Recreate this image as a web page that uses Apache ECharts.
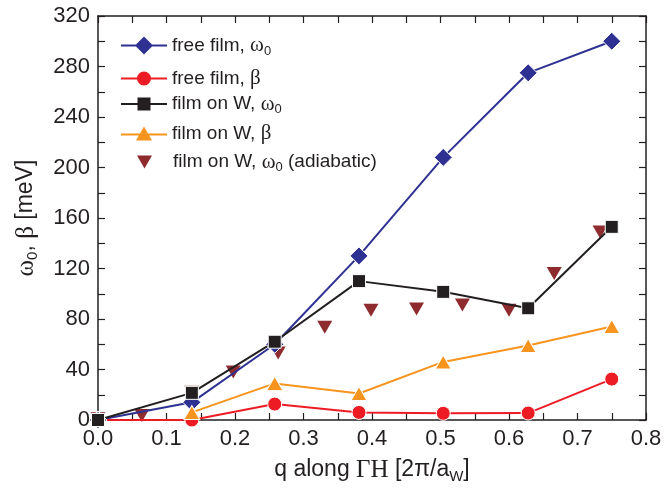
<!DOCTYPE html>
<html>
<head>
<meta charset="utf-8">
<script src="https://cdn.jsdelivr.net/npm/echarts@6/dist/echarts.min.js"></script>
<style>
  html, body { margin: 0; padding: 0; background: #fff; }
  #chart { width: 665px; height: 489px; }
</style>
</head>
<body>
<div id="chart"></div>
<script>
// q values (2pi/aW)
var qMain = [0, 0.137, 0.258, 0.381, 0.504, 0.628, 0.75];
var qOrange = [0.137, 0.258, 0.381, 0.504, 0.628, 0.75];
var qAdiab = [0, 0.064, 0.137, 0.1975, 0.263, 0.331, 0.3985, 0.465, 0.532, 0.6, 0.666, 0.733];

// meV
var freeOmega = [0, 14, 60, 130, 208, 275, 300];
var freeBeta = [0, 0, 12.6, 6, 5.3, 5.5, 32.4];
var wOmega = [0, 21.5, 62, 110, 101.5, 88.5, 153];
var wBeta = [6, 29, 21, 46, 59, 74];
var wAdiab = [1, 3.5, 22, 38, 53, 73.5, 87, 88, 91, 87, 116, 149];

var names = ['free film, ω0', 'free film, β', 'film on W, ω0', 'film on W, β', 'film on W, ω0 (adiabatic)'];
var legendText = {
  'free film, ω0': '{t|free film, }{g|ω}{s|0}',
  'free film, β': '{t|free film, }{g|β}',
  'film on W, ω0': '{t|film on W, }{g|ω}{s|0}',
  'film on W, β': '{t|film on W, }{g|β}',
  'film on W, ω0 (adiabatic)': '{p| }{t|film on W, }{g|ω}{s|0}{t| (adiabatic)}'
};
var legendRow = [44, 75, 100, 130, 158];

// legend icons: line with marker drawn as one path
var legendIcons = [
  { icon: 'path://M0,8 L15,8 L23,0 L31,8 L46,8 L46,10 L31,10 L23,18 L15,10 L0,10 Z', w: 46, h: 18 },
  { icon: 'path://M0,6 L46,6 L46,8 L0,8 Z M16,7 A7,7 0 1,1 30,7 A7,7 0 1,1 16,7 Z', w: 46, h: 14 },
  { icon: 'path://M0,5.5 L46,5.5 L46,7.5 L0,7.5 Z M16.5,0 L29.5,0 L29.5,13 L16.5,13 Z', w: 46, h: 13 },
  { icon: 'path://M0,7 L46,7 L46,9 L0,9 Z M23,0 L31,14 L15,14 Z', w: 46, h: 14 },
  { icon: 'path://M0,0 L15,0 L7.5,13 Z', w: 15, h: 13 }
];

function pairs(xs, ys) {
  return xs.map(function (x, i) { return [x, ys[i]]; });
}

var rich = {
  t: { fontFamily: 'Liberation Sans', fontSize: 19, color: '#231f20', lineHeight: 24, verticalAlign: 'middle' },
  g: { fontFamily: 'Liberation Serif', fontSize: 21, color: '#231f20', lineHeight: 24, verticalAlign: 'middle' },
  s: { fontFamily: 'Liberation Sans', fontSize: 13, color: '#231f20', lineHeight: 12, verticalAlign: 'bottom' },
  p: { width: 16, lineHeight: 24 }
};
var richTitle = {
  t: { fontFamily: 'Liberation Sans', fontSize: 23, color: '#231f20', lineHeight: 28, verticalAlign: 'middle' },
  g: { fontFamily: 'Liberation Serif', fontSize: 25, color: '#231f20', lineHeight: 28, verticalAlign: 'middle' },
  s: { fontFamily: 'Liberation Sans', fontSize: 15, color: '#231f20', lineHeight: 14, verticalAlign: 'bottom' }
};

var chart = echarts.init(document.getElementById('chart'));

var legends = names.map(function (n, i) {
  var ic = legendIcons[i];
  return {
    data: [n],
    icon: ic.icon,
    left: i === 4 ? 137 : 121,
    top: legendRow[i] - ic.h / 2,
    orient: 'vertical',
    itemWidth: ic.w,
    itemHeight: ic.h,
    itemGap: 0,
    padding: 0,
    selectedMode: false,
    itemStyle: { borderWidth: 0 },
    formatter: function (name) { return legendText[name]; },
    textStyle: { rich: rich }
  };
});

var lineSeries = function (name, data, color, symbol, size) {
  return {
    name: name,
    type: 'line',
    data: data,
    symbol: symbol,
    symbolSize: size,
    lineStyle: { color: color, width: 2 },
    itemStyle: { color: color, borderColor: '#fff', borderWidth: 1 },
    animation: false
  };
};

var tickStyle = { color: '#231f20', width: 1.2 };
var lineStyleAxis = { color: '#231f20', width: 1.5 };

chart.setOption({
  animation: false,
  backgroundColor: '#fff',
  legend: legends,
  grid: { left: 98, right: 19, top: 16, bottom: 68 },
  xAxis: [{
    type: 'value', min: 0, max: 0.8, interval: 0.1,
    name: '{t|q along }{g|ΓH}{t| [2π/a}{s|W}{t|]}',
    nameLocation: 'middle', nameGap: 36,
    nameTextStyle: { rich: richTitle },
    axisLine: { show: true, lineStyle: lineStyleAxis },
    axisTick: { show: true, inside: true, length: 7, lineStyle: tickStyle },
    minorTick: { show: true, splitNumber: 2, length: 7, lineStyle: tickStyle },
    axisLabel: {
      fontFamily: 'Liberation Sans', fontSize: 22, color: '#231f20', margin: 8,
      formatter: function (v) { return v.toFixed(1); }
    },
    splitLine: { show: false }
  }, {
    type: 'value', min: 0, max: 0.8, interval: 0.1, position: 'top',
    axisLine: { show: true, onZero: false, lineStyle: lineStyleAxis },
    axisTick: { show: true, inside: true, length: 7, lineStyle: tickStyle },
    minorTick: { show: true, splitNumber: 2, length: 7, lineStyle: tickStyle },
    axisLabel: { show: false },
    splitLine: { show: false }
  }],
  yAxis: [{
    type: 'value', min: 0, max: 320, interval: 40,
    name: '{g|ω}{s|0}{t|, }{g|β}{t| [meV]}',
    nameLocation: 'middle', nameGap: 58, nameRotate: 90,
    nameTextStyle: { rich: richTitle },
    axisLine: { show: true, lineStyle: lineStyleAxis },
    axisTick: { show: true, inside: true, length: 7, lineStyle: tickStyle },
    minorTick: { show: true, splitNumber: 2, length: 7, lineStyle: tickStyle },
    axisLabel: { fontFamily: 'Liberation Sans', fontSize: 22, color: '#231f20', margin: 8 },
    splitLine: { show: false }
  }, {
    type: 'value', min: 0, max: 320, interval: 40, position: 'right',
    axisLine: { show: true, onZero: false, lineStyle: lineStyleAxis },
    axisTick: { show: true, inside: true, length: 7, lineStyle: tickStyle },
    minorTick: { show: true, splitNumber: 2, length: 7, lineStyle: tickStyle },
    axisLabel: { show: false },
    splitLine: { show: false }
  }],
  series: [
    lineSeries(names[0], pairs(qMain, freeOmega), '#2e3192', 'diamond', 18),
    lineSeries(names[1], pairs(qMain, freeBeta), '#ed1c24', 'circle', 14),
    lineSeries(names[2], pairs(qMain, wOmega), '#231f20', 'rect', 13),
    lineSeries(names[3], pairs(qOrange, wBeta), '#f7941d', 'triangle', [16, 14]),
    {
      name: names[4],
      type: 'scatter',
      data: pairs(qAdiab, wAdiab),
      symbol: 'triangle',
      symbolRotate: 180,
      symbolSize: [15, 13],
      itemStyle: { color: '#8e2b2f', opacity: 1 },
      animation: false
    }
  ]
});
</script>
</body>
</html>
